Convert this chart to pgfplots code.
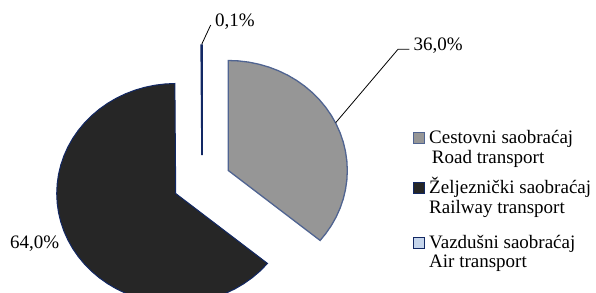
\documentclass[border=0pt]{standalone}
\usepackage{fontspec}
\setmainfont{Liberation Serif}
\usepackage{pgfplots}
\pgfplotsset{compat=1.18}
\definecolor{roadfill}{RGB}{150,150,150}
\definecolor{roadedge}{RGB}{80,100,145}
\definecolor{railfill}{RGB}{38,38,38}
\definecolor{navy}{RGB}{18,40,100}
\definecolor{airfill}{RGB}{197,213,235}
\newcommand{\lblfont}{\fontsize{19bp}{19.5bp}\selectfont}
\begin{document}
\begin{tikzpicture}
\begin{axis}[
  x=119bp, y=110bp, scale only axis,
  xmin=-1.6975, xmax=3.3109, ymin=-1.0091, ymax=1.6545,
  hide axis, clip=true,
]
% Road transport 36.0 %
\addplot[fill=roadfill, draw=roadedge, line width=1.3bp, mark=none, data cs=polar,
  xshift=26.3bp, yshift=11.5bp] coordinates {
 (0,0) (90,1) (85,1) (80,1) (75,1) (70,1) (65,1) (60,1) (55,1) (50,1) (45,1)
 (40,1) (35,1) (30,1) (25,1) (20,1) (15,1) (10,1) (5,1) (0,1) (-5,1) (-10,1)
 (-15,1) (-20,1) (-25,1) (-30,1) (-35,1) (-39.5,1)} -- cycle;
% Railway transport 64.0 %
\addplot[fill=railfill, draw=navy, line width=1bp, mark=none, data cs=polar,
  xshift=-26.3bp, yshift=-11.5bp] coordinates {
 (0,0) (-39.5,1) (-45,1) (-50,1) (-55,1) (-60,1) (-65,1) (-70,1) (-75,1) (-80,1)
 (-85,1) (-90,1) (-95,1) (-100,1) (-105,1) (-110,1) (-115,1) (-120,1) (-125,1)
 (-130,1) (-135,1) (-140,1) (-145,1) (-150,1) (-155,1) (-160,1) (-165,1) (-170,1)
 (-175,1) (-180,1) (-185,1) (-190,1) (-195,1) (-200,1) (-205,1) (-210,1) (-215,1)
 (-220,1) (-225,1) (-230,1) (-235,1) (-240,1) (-245,1) (-250,1) (-255,1) (-260,1)
 (-265,1) (-269.6,1)} -- cycle;
% Air transport 0.1 %
\addplot[fill=airfill, draw=navy, line width=1.6bp, mark=none, data cs=polar,
  yshift=26.9bp] coordinates {(0,0) (-269.6,1) (-270,1)} -- cycle;
% leader lines
\addplot[black, line width=0.8bp, mark=none] coordinates {(-0.0025,1.2518) (0.0731,1.4273)};
\addplot[black, line width=0.8bp, mark=none] coordinates {(1.1235,0.5391) (1.647,1.2064) (1.742,1.2064)};
% labels
\node[anchor=base west, inner sep=0pt, font=\lblfont] at (axis cs:0.1092,1.418) {0,1\%};
\node[anchor=base west, inner sep=0pt, font=\lblfont] at (axis cs:1.7756,1.1936) {36,0\%};
\node[anchor=base west, inner sep=0pt, font=\lblfont] at (axis cs:-1.6134,-0.609) {64,0\%};
% legend keys
\addplot[only marks, mark=square*, mark size=5.5bp, mark options={fill=roadfill, draw=roadedge, line width=1.2bp}] coordinates {(1.8235,0.4)};
\addplot[only marks, mark=square*, mark size=5.5bp, mark options={fill=railfill, draw=navy, line width=1bp}] coordinates {(1.8235,-0.0545)};
\addplot[only marks, mark=square*, mark size=5.5bp, mark options={fill=airfill, draw=navy, line width=1bp}] coordinates {(1.8235,-0.5545)};
% legend texts
\node[anchor=base west, inner sep=0pt, font=\lblfont] at (axis cs:1.9076,0.3455) {Cestovni saobraćaj};
\node[anchor=base west, inner sep=0pt, font=\lblfont] at (axis cs:1.9303,0.1700) {Road transport};
\node[anchor=base west, inner sep=0pt, font=\lblfont] at (axis cs:1.9076,-0.1091) {Željeznički saobraćaj};
\node[anchor=base west, inner sep=0pt, font=\lblfont] at (axis cs:1.9076,-0.2845) {Railway transport};
\node[anchor=base west, inner sep=0pt, font=\lblfont] at (axis cs:1.9076,-0.6091) {Vazdušni saobraćaj};
\node[anchor=base west, inner sep=0pt, font=\lblfont] at (axis cs:1.9076,-0.7791) {Air transport};
\end{axis}
\pgfresetboundingbox
\useasboundingbox (current axis.south west) rectangle (current axis.north east);
\end{tikzpicture}
\end{document}
